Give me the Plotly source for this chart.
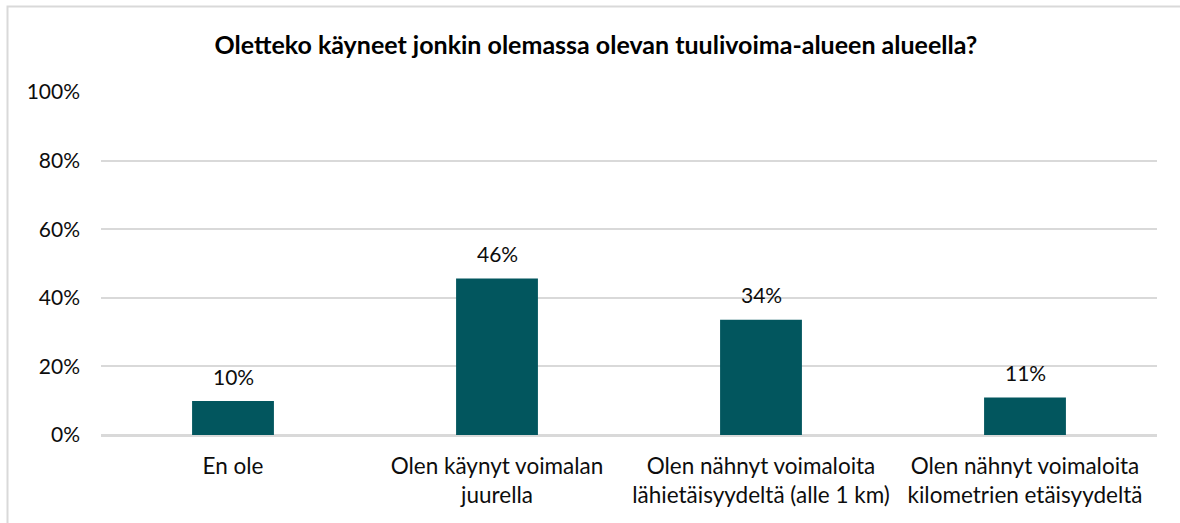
import plotly.graph_objects as go

categories = [
    "En ole",
    "Olen käynyt voimalan<br>juurella",
    "Olen nähnyt voimaloita<br>lähietäisyydeltä (alle 1 km)",
    "Olen nähnyt voimaloita<br>kilometrien etäisyydeltä",
]
values = [0.099, 0.456, 0.336, 0.109]
tick_vals = [0, 0.2, 0.4, 0.6, 0.8, 1.0]
tick_text = ["0%", "20%", "40%", "60%", "80%", "100%"]

title = "Oletteko käyneet jonkin olemassa olevan tuulivoima-alueen alueella?"
bar_color = "#02565E"
grid_color = "#D9D9D9"
text_color = "#0d0d0d"
font_family = "Lato, Carlito, Calibri, sans-serif"

fig = go.Figure(
    go.Bar(
        x=categories,
        y=values,
        marker=dict(color=bar_color, line=dict(width=0)),
        width=0.31,
        hoverinfo="skip",
    )
)

for c, v in zip(categories, values):
    fig.add_annotation(
        x=c,
        y=v,
        text=f"{v:.0%}",
        showarrow=False,
        yanchor="middle",
        xanchor="center",
        yshift=25,
        font=dict(family=font_family, size=21, color=text_color),
    )

fig.update_layout(
    width=1180,
    height=523,
    margin=dict(l=101, r=23, t=92, b=88),
    paper_bgcolor="white",
    plot_bgcolor="white",
    font=dict(family=font_family, size=21, color=text_color),
    showlegend=False,
    title=dict(
        text="<b>" + title + "</b>",
        x=0.505,
        xanchor="center",
        y=1 - 45 / 523,
        yanchor="middle",
        yref="container",
        font=dict(family=font_family, size=25, color="#000000"),
    ),
)

fig.update_yaxes(
    range=[0, 1.0],
    tickvals=tick_vals,
    ticktext=tick_text,
    showgrid=True,
    gridcolor=grid_color,
    gridwidth=1.5,
    zeroline=True,
    zerolinecolor=grid_color,
    zerolinewidth=1.5,
    showline=False,
    ticks="",
    ticklabelstandoff=20,
    tickfont=dict(family=font_family, size=21, color=text_color),
)
fig.update_xaxes(
    showgrid=False,
    showline=True,
    linecolor=grid_color,
    linewidth=1.5,
    ticks="",
    ticklabelstandoff=10,
    tickfont=dict(family=font_family, size=22.5, color=text_color),
    tickangle=0,
)

# outer chart border (light grey frame, top and left edges visible)
fig.add_shape(
    type="rect",
    xref="paper",
    yref="paper",
    x0=(7.5 - 101) / 1056,
    x1=1.2,
    y0=-0.5,
    y1=(435 - 6.5) / 343,
    line=dict(color=grid_color, width=2),
    fillcolor="rgba(0,0,0,0)",
    layer="below",
)

fig.write_html(
    "out.html",
    config={"displayModeBar": False},
    post_script="document.body.style.margin='0';document.body.style.overflow='hidden';",
)
